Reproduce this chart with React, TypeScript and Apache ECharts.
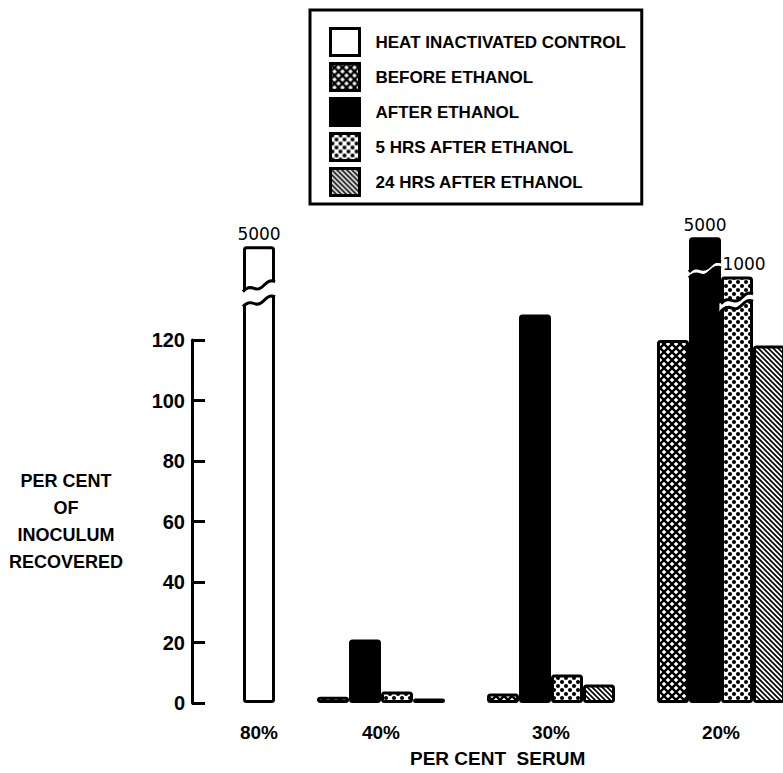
import React, { useEffect, useRef } from 'react';
import * as echarts from 'echarts';

// ---------- data ----------
const categories = ['80%', '40%', '30%', '20%'];
const seriesNames = [
  'HEAT INACTIVATED CONTROL',
  'BEFORE ETHANOL',
  'AFTER ETHANOL',
  '5 HRS AFTER ETHANOL',
  '24 HRS AFTER ETHANOL',
];
const heatControl = [5000, null, null, null];
const beforeEthanol = [null, 2.1, 3.1, 120];
const afterEthanol = [null, 21, 128.4, 5000];
const fiveHrsAfter = [null, 3.8, 9.4, 1000];
const twentyFourHrsAfter = [null, 1.5, 6.1, 118.2];
const yMin = 0;
const yMax = 120;
const yStep = 20;

// broken (off-scale) bars: height shown on the axis and the break band (axis units)
const brokenSeries = ['HEAT INACTIVATED CONTROL', 'AFTER ETHANOL', '5 HRS AFTER ETHANOL'];
const brokenCategory = ['80%', '20%', '20%'];
const brokenShownTop = [151, 154, 141];
const brokenGapFrom = [131, 140.5, 129.5];
const brokenGapTo = [136, 142.5, 132];

const xTitle = 'PER CENT  SERUM';
const yTitle = 'PER CENT\nOF\nINOCULUM\nRECOVERED';

// ---------- styling helpers ----------
const FONT = "'Liberation Sans', Arial, sans-serif";
const BAR_W = 32;

function makePattern(kind: string): any {
  const c = document.createElement('canvas');
  const ctx = c.getContext('2d') as CanvasRenderingContext2D;
  if (kind === 'cross') {
    c.width = 8; c.height = 8;
    ctx.fillStyle = '#fff'; ctx.fillRect(0, 0, 8, 8);
    ctx.strokeStyle = '#000'; ctx.lineWidth = 2.4;
    ctx.beginPath();
    ctx.moveTo(-1, -1); ctx.lineTo(9, 9);
    ctx.moveTo(9, -1); ctx.lineTo(-1, 9);
    ctx.stroke();
  } else if (kind === 'dots') {
    c.width = 8; c.height = 8;
    ctx.fillStyle = '#fff'; ctx.fillRect(0, 0, 8, 8);
    ctx.fillStyle = '#000';
    ctx.beginPath(); ctx.arc(2, 2, 2, 0, Math.PI * 2); ctx.fill();
    ctx.beginPath(); ctx.arc(6, 6, 2, 0, Math.PI * 2); ctx.fill();
  } else {
    c.width = 5; c.height = 5;
    ctx.fillStyle = '#fff'; ctx.fillRect(0, 0, 5, 5);
    ctx.strokeStyle = '#000'; ctx.lineWidth = 1.7;
    ctx.beginPath();
    for (const o of [-5, 0, 5]) { ctx.moveTo(o - 1, -1); ctx.lineTo(o + 6, 6); }
    ctx.stroke();
  }
  return { image: c, repeat: 'repeat' };
}

function buildOption() {
  const fills = ['#fff', makePattern('cross'), '#000', makePattern('dots'), makePattern('stripes')];
  const values = [heatControl, beforeEthanol, afterEthanol, fiveHrsAfter, twentyFourHrsAfter];
  const controlCats = categories.slice(0, 1);
  const mainCats = categories.slice(1);

  const brokenIndex = (name: string, cat: string) =>
    brokenSeries.findIndex((s, i) => s === name && brokenCategory[i] === cat);

  const item = (name: string, cat: string, v: number | null) => {
    if (v == null) return '-';
    const k = brokenIndex(name, cat);
    if (k < 0) return v;
    const narrowLabel = String(v).charAt(0) === '1';
    return {
      value: brokenShownTop[k],
      label: { show: true, formatter: String(v), offset: [narrowLabel ? 7 : 0, 0] },
    };
  };

  const barLabel = {
    show: false,
    position: 'top',
    distance: 4,
    color: '#000',
    fontFamily: "'DejaVu Sans', sans-serif",
    fontSize: 17,
  };

  const series: any[] = seriesNames.map((name, s) => {
    const cats = s === 0 ? controlCats : mainCats;
    return {
      type: 'bar',
      name,
      xAxisIndex: s === 0 ? 0 : 1,
      yAxisIndex: s === 0 ? 0 : 1,
      barWidth: BAR_W,
      barGap: '0%',
      clip: false,
      itemStyle: { color: fills[s], borderColor: '#000', borderWidth: 3, borderRadius: 2 },
      label: barLabel,
      emphasis: { disabled: true },
      data: cats.map((c) => item(name, c, values[s][categories.indexOf(c)] as any)),
    };
  });

  const renderBreak = (params: any, api: any) => {
    const cat = api.value(0);
    const from = api.value(1);
    const to = api.value(2);
    const off = api.value(3);
    const c0 = api.coord([cat, from]);
    const c1 = api.coord([cat, to]);
    const cx = c0[0] + off * BAR_W;
    const left = cx - BAR_W / 2 - 1.6;
    const right = cx + BAR_W / 2 + 1.6;
    const n = 12;
    const slant = 10;
    const edge = (y0: number, a: number, b: number) => {
      const pts: number[][] = [];
      for (let i = 0; i <= n; i++) {
        const t = i / n;
        pts.push([a + (b - a) * t, y0 - slant * t - 2.2 * Math.sin(t * Math.PI * 3)]);
      }
      return pts;
    };
    const low = edge(c0[1], left, right);
    const high = edge(c1[1], left, right);
    return {
      type: 'group',
      children: [
        { type: 'polygon', shape: { points: low.concat(high.slice().reverse()) }, style: { fill: '#fff' } },
        { type: 'polyline', shape: { points: edge(c0[1], left + 1.5, right - 1.5) }, style: { stroke: '#000', lineWidth: 3, fill: null } },
        { type: 'polyline', shape: { points: edge(c1[1], left + 1.5, right - 1.5) }, style: { stroke: '#000', lineWidth: 3, fill: null } },
      ],
    };
  };

  const breakData = (cats: string[], grid: number) =>
    brokenSeries
      .map((name, i) => ({ name, i }))
      .filter(({ i }) => cats.indexOf(brokenCategory[i]) >= 0)
      .map(({ name, i }) => [
        cats.indexOf(brokenCategory[i]),
        brokenGapFrom[i],
        brokenGapTo[i],
        grid === 0 ? 0 : seriesNames.indexOf(name) - 1 - 1.5,
      ]);

  series.push(
    {
      type: 'custom', name: 'breaks-control', xAxisIndex: 0, yAxisIndex: 0, z: 5, clip: false,
      silent: true, renderItem: renderBreak, encode: { x: 0, y: [1, 2] }, data: breakData(controlCats, 0),
    },
    {
      type: 'custom', name: 'breaks-main', xAxisIndex: 1, yAxisIndex: 1, z: 5, clip: false,
      silent: true, renderItem: renderBreak, encode: { x: 0, y: [1, 2] }, data: breakData(mainCats, 1),
    },
  );

  const xLabel = { fontFamily: FONT, fontSize: 19, fontWeight: 'bold', color: '#000', margin: 20 };

  return {
    animation: false,
    backgroundColor: '#fff',
    title: {
      text: xTitle, left: 410, top: 749, padding: 0,
      textStyle: { fontFamily: FONT, fontSize: 19, fontWeight: 'bold', color: '#000' },
    },
    legend: {
      data: seriesNames,
      orient: 'vertical',
      left: 310,
      top: 10,
      padding: [17, 16, 7, 19],
      itemWidth: 29,
      itemHeight: 27,
      itemGap: 5,
      icon: 'rect',
      selectedMode: false,
      borderColor: '#000',
      borderWidth: 3,
      backgroundColor: '#fff',
      itemStyle: { borderColor: '#000', borderWidth: 3 },
      textStyle: { fontFamily: FONT, fontSize: 17, fontWeight: 'bold', color: '#000', padding: [0, 0, 0, 11] },
    },
    grid: [
      { left: 192, top: 340, width: 134, bottom: 70, outerBoundsMode: 'none', containLabel: false },
      { left: 296, top: 340, right: -23, bottom: 70, outerBoundsMode: 'none', containLabel: false },
    ],
    xAxis: [
      {
        type: 'category', gridIndex: 0, data: controlCats,
        axisLine: { show: false }, axisTick: { show: false }, axisLabel: xLabel,
      },
      {
        type: 'category', gridIndex: 1, data: mainCats,
        axisLine: { show: false }, axisTick: { show: false }, axisLabel: xLabel,
      },
    ],
    yAxis: [
      {
        type: 'value', gridIndex: 0, min: yMin, max: yMax, interval: yStep,
        axisLine: { show: true, lineStyle: { color: '#000', width: 3 } },
        axisTick: { show: true, inside: true, length: 13, lineStyle: { color: '#000', width: 3 } },
        splitLine: { show: false },
        axisLabel: { fontFamily: FONT, fontSize: 20, fontWeight: 'bold', color: '#000', margin: 7 },
        name: yTitle,
        nameLocation: 'middle',
        nameRotate: 0,
        nameGap: 126,
        nameTextStyle: {
          fontFamily: FONT, fontSize: 18, fontWeight: 'bold', color: '#000',
          align: 'center', verticalAlign: 'middle', lineHeight: 27, padding: [26, 0, 0, 0],
        },
      },
      {
        type: 'value', gridIndex: 1, min: yMin, max: yMax, interval: yStep, show: false,
        splitLine: { show: false },
      },
    ],
    series,
  };
}

export default function App() {
  const ref = useRef<HTMLDivElement>(null);
  useEffect(() => {
    const chart = echarts.init(ref.current as HTMLDivElement, null, { renderer: 'svg' });
    chart.setOption(buildOption() as any);
    return () => chart.dispose();
  }, []);
  return (
    <div
      ref={ref}
      style={{ position: 'fixed', left: 0, top: 0, width: 783, height: 773, background: '#fff' }}
    />
  );
}
